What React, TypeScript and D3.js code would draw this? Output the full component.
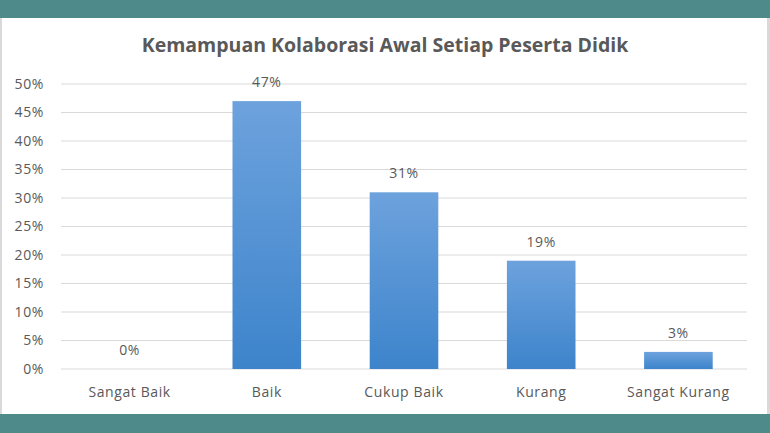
import React from "react";
import * as d3 from "d3";

const categories = ["Sangat Baik", "Baik", "Cukup Baik", "Kurang", "Sangat Kurang"];
const values = [0, 47, 31, 19, 3];
const yTicks = [0, 5, 10, 15, 20, 25, 30, 35, 40, 45, 50];
const title = "Kemampuan Kolaborasi Awal Setiap Peserta Didik";

const W = 770;
const H = 433;
const margin = { left: 61, right: 23, top: 84, bottom: 64 };

export default function App() {
  const x = d3
    .scaleBand<string>()
    .domain(categories)
    .range([margin.left, W - margin.right])
    .paddingInner(0.5)
    .paddingOuter(0.25);
  const y = d3.scaleLinear().domain([0, 50]).range([H - margin.bottom, margin.top]);
  const font = "'Open Sans', sans-serif";
  const grey = "#595959";
  const fs = 14;
  const ls = 0.6;
  return (
    <svg
      width={W}
      height={H}
      style={{ position: "fixed", left: 0, top: 0, display: "block" }}
      fontFamily={font}
    >
      <defs>
        <linearGradient id="barg" x1="0" y1="0" x2="0" y2="1">
          <stop offset="0%" stopColor="#6da2dd" />
          <stop offset="100%" stopColor="#3d84cb" />
        </linearGradient>
      </defs>
      <rect x={0} y={0} width={W} height={H} fill="#ffffff" />
      <rect x={0} y={0} width={2} height={H} fill="#d9d9d9" />
      <rect x={767} y={0} width={3} height={H} fill="#d9d9d9" />
      <rect x={0} y={0} width={W} height={18} fill="#4e8a89" />
      <rect x={0} y={414} width={W} height={H - 414} fill="#4e8a89" />
      <text x={385} y={52} textAnchor="middle" fontSize={19.5} fontWeight="bold" fill={grey}>
        {title}
      </text>
      {yTicks.map((t) => (
        <g key={t}>
          <line
            x1={margin.left}
            x2={W - margin.right}
            y1={y(t)}
            y2={y(t)}
            stroke="#d9d9d9"
            strokeWidth={1}
          />
          <text
            x={44}
            y={y(t)}
            dy="0.35em"
            textAnchor="end"
            fontSize={fs}
            letterSpacing={ls}
            fill={grey}
          >
            {t}%
          </text>
        </g>
      ))}
      {categories.map((c, i) => (
        <g key={c}>
          {values[i] > 0 && (
            <rect
              x={x(c)}
              y={y(values[i])}
              width={x.bandwidth()}
              height={y(0) - y(values[i])}
              fill="url(#barg)"
            />
          )}
          <text
            x={(x(c) as number) + x.bandwidth() / 2}
            y={y(values[i]) - 14}
            textAnchor="middle"
            fontSize={fs}
            letterSpacing={ls}
            fill={grey}
          >
            {values[i]}%
          </text>
          <text
            x={(x(c) as number) + x.bandwidth() / 2}
            y={397}
            textAnchor="middle"
            fontSize={fs}
            letterSpacing={ls}
            fill={grey}
          >
            {c}
          </text>
        </g>
      ))}
    </svg>
  );
}
